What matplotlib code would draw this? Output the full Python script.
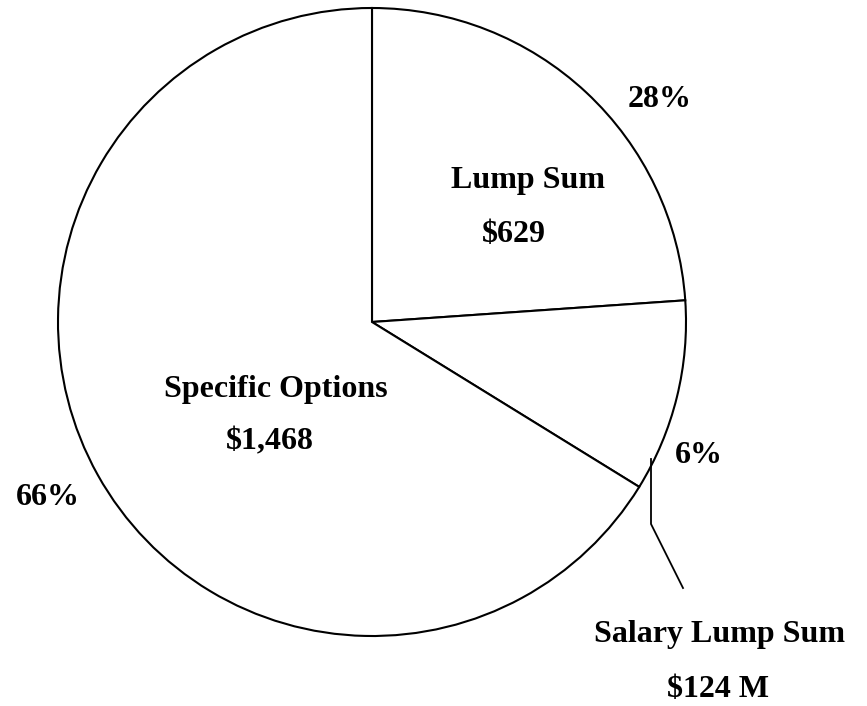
import matplotlib.pyplot as plt

# Datos del grafico (montos en millones)
categories = ["Lump Sum", "Salary Lump Sum", "Specific Options"]
amounts = ["$629", "$124 M", "$1,468"]
pct_labels = ["28%", "6%", "66%"]
# tamano de cada porcion (angulo / 360)
slice_share = [23.9, 9.9, 66.2]

W, H = 867, 706
plt.rcParams['font.family'] = ['Liberation Serif', 'DejaVu Serif']

fig = plt.figure(figsize=(W / 100, H / 100), dpi=100)
ax = fig.add_axes([0, 0, 1, 1])

# coordenadas en pixeles con y hacia arriba
cx, cy, r = 372, H - 322, 314
ax.pie(slice_share, startangle=90, counterclock=False, center=(cx, cy), radius=r,
       wedgeprops=dict(facecolor='white', edgecolor='black', linewidth=1.5))
ax.set_xlim(0, W)
ax.set_ylim(0, H)
ax.set_aspect('equal')
ax.axis('off')

fs = 23
def label(x, y, s):
    ax.text(x, H - y, s, ha='center', va='baseline', fontsize=fs, fontweight='bold')

# Lump Sum
label(528, 188, categories[0])
label(514, 242, amounts[0])
label(660, 107, pct_labels[0])
# Salary Lump Sum
label(699, 463, pct_labels[1])
label(720, 642, categories[1])
label(718, 697, amounts[1])
# Specific Options
label(276, 397, categories[2])
label(270, 449, amounts[2])
label(48, 505, pct_labels[2])

# linea guia de la porcion pequena
ax.plot([651, 651, 683], [H - 459, H - 524, H - 588], color='black', linewidth=1.3)

fig.savefig("out.png", dpi=100)
